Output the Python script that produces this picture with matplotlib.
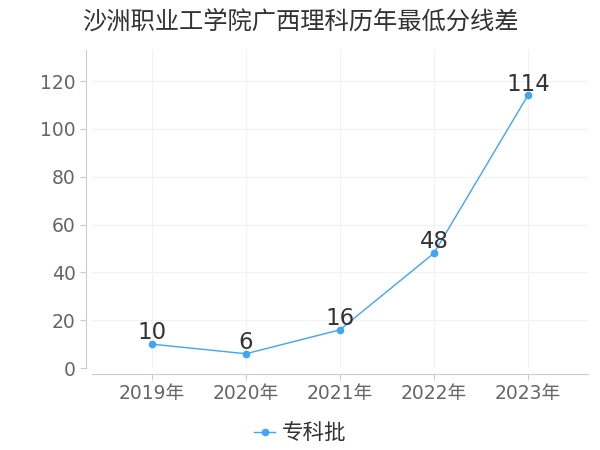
import matplotlib
matplotlib.use("Agg")
import matplotlib.pyplot as plt

plt.rcParams['font.family'] = ['DejaVu Sans', 'Noto Sans CJK SC']

years = ['2019年', '2020年', '2021年', '2022年', '2023年']
scores = [10, 6, 16, 48, 114]
series_name = '专科批'
title = '沙洲职业工学院广西理科历年最低分线差'

color = '#3fa5f8'

fig = plt.figure(figsize=(6, 4.5), dpi=100)
ax = fig.add_axes([0.153, 0.182, 0.827, 0.707])

x = list(range(len(years)))
ax.plot(x, scores, color=color, lw=1, marker='o', ms=4.5, label=series_name)
for xi, v in zip(x, scores):
    ax.annotate(str(v), (xi, v), xytext=(0, 3.5), textcoords='offset points',
                ha='center', va='baseline', fontsize=16.5, color='#333333')

ax.set_xlim(-0.64, 4.64)
ax.set_ylim(0, 133)
ax.set_yticks(range(0, 121, 20))
ax.set_xticks(x)
ax.set_xticklabels(years)

ax.grid(True, color='#f2f2f2', lw=0.8)
ax.set_axisbelow(True)
for s in ['top', 'right']:
    ax.spines[s].set_visible(False)
ax.spines['left'].set_color('#cccccc')
ax.spines['bottom'].set_color('#cccccc')
ax.spines['bottom'].set_position(('outward', 4))
ax.spines['left'].set_position(('outward', 4))
ax.tick_params(axis='both', colors='#cccccc', labelcolor='#666666', labelsize=13.5, length=4)

fig.suptitle(title, x=0.5, y=0.98, fontsize=17.5, color='#333333',
             family=['Noto Sans CJK SC', 'DejaVu Sans'])
fig.legend(loc='lower center', bbox_to_anchor=(0.5, -0.03), frameon=False,
           handlelength=1.0, handletextpad=0.3, labelcolor='#333333',
           prop={'family': ['Noto Sans CJK SC'], 'size': 15.5})

fig.savefig('out.png', dpi=100)
